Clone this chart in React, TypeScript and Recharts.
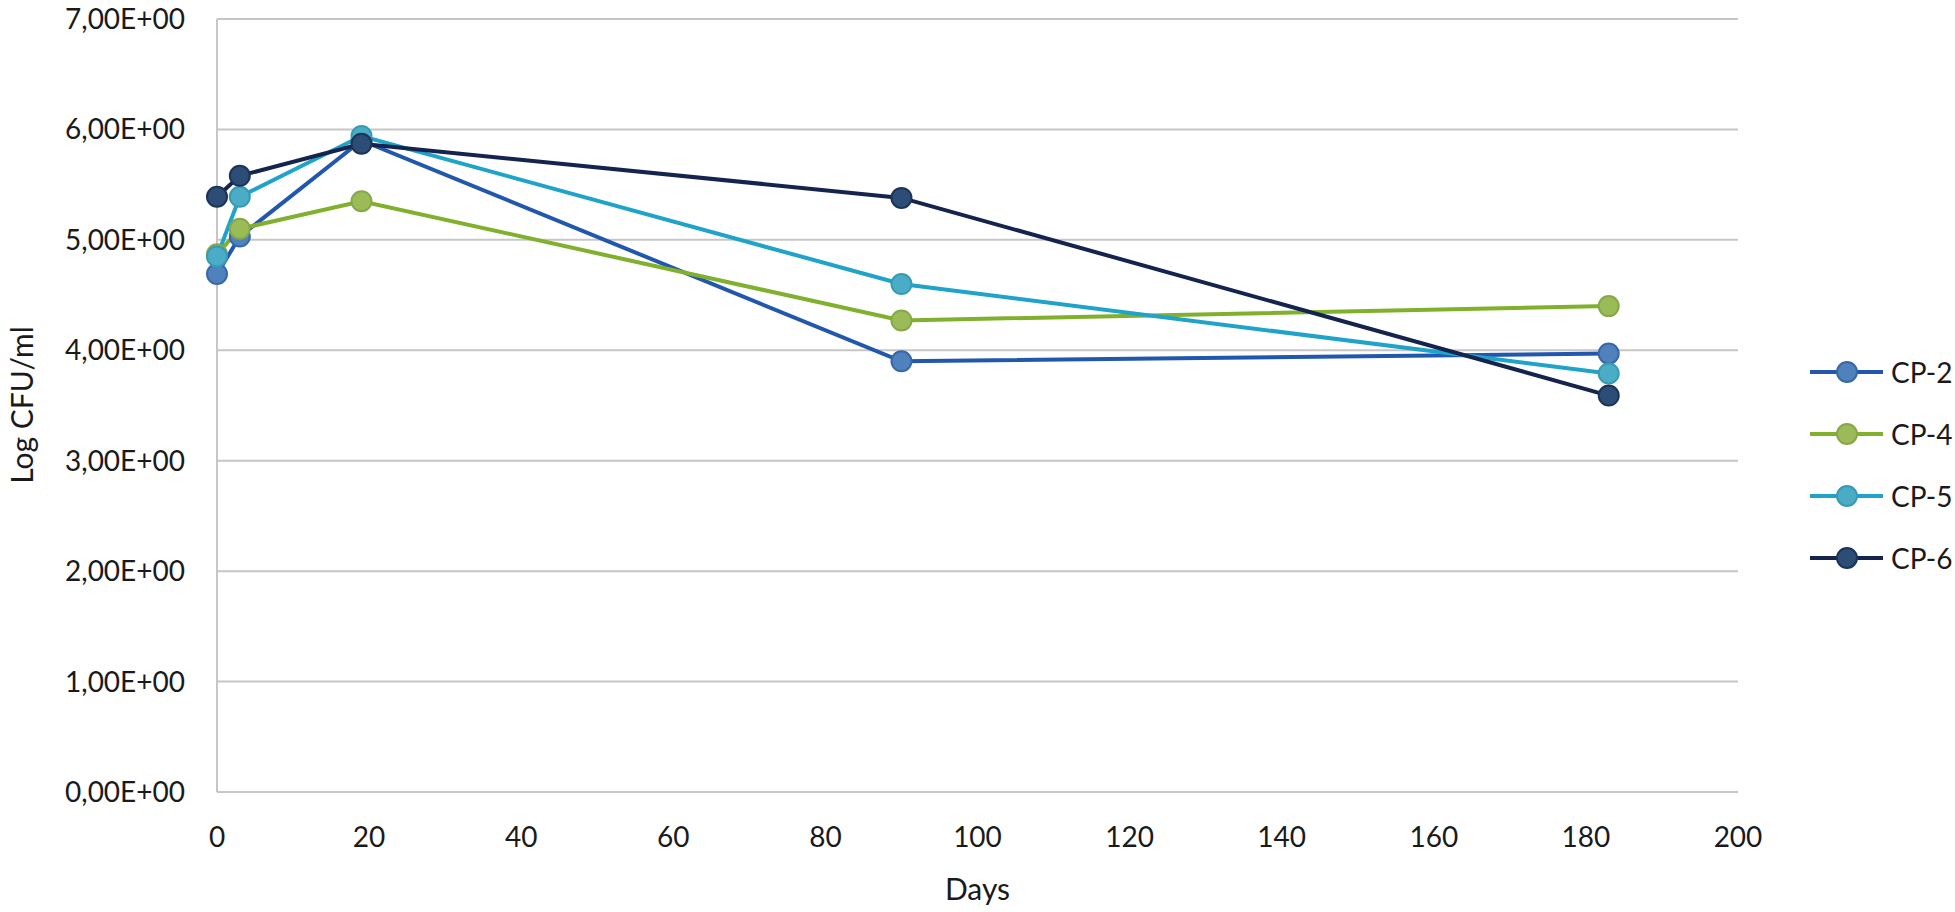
import {
  LineChart,
  Line,
  XAxis,
  YAxis,
  CartesianGrid,
  Legend,
  Label,
} from "recharts";

const days = [0, 3, 19, 90, 183];
const cp2 = [4.69, 5.03, 5.9, 3.9, 3.97];
const cp4 = [4.87, 5.1, 5.35, 4.27, 4.4];
const cp5 = [4.85, 5.39, 5.94, 4.6, 3.79];
const cp6 = [5.39, 5.58, 5.87, 5.38, 3.59];

const xTicks = [0, 20, 40, 60, 80, 100, 120, 140, 160, 180, 200];
const yTicks = [0, 1, 2, 3, 4, 5, 6, 7];

const seriesInfo = [
  { key: "CP-2", line: "#2157ad", dot: "#4f81bd", edge: "#3a67a8" },
  { key: "CP-4", line: "#80b02c", dot: "#9bbb59", edge: "#86a848" },
  { key: "CP-5", line: "#1fa3c9", dot: "#4bacc6", edge: "#379bb6" },
  { key: "CP-6", line: "#15234f", dot: "#2c4d75", edge: "#1c3458" },
];

const data = days.map((d, i) => ({
  day: d,
  "CP-2": cp2[i],
  "CP-4": cp4[i],
  "CP-5": cp5[i],
  "CP-6": cp6[i],
}));

const FONT = "Lato, 'Open Sans', sans-serif";
const TEXT = "#1a1a1a";

const fmtY = (v: number) => v.toFixed(2).replace(".", ",") + "E+00";

function LegendBox() {
  return (
    <div style={{ fontFamily: FONT, fontSize: 28, color: TEXT }}>
      {seriesInfo.map((s) => (
        <div
          key={s.key}
          style={{ display: "flex", alignItems: "center", height: 62 }}
        >
          <svg width={73} height={26} style={{ marginRight: 8 }}>
            <line x1={0} y1={13} x2={73} y2={13} stroke={s.line} strokeWidth={4} />
            <circle cx={37} cy={13} r={10} fill={s.dot} stroke={s.edge} strokeWidth={2} />
          </svg>
          <span>{s.key}</span>
        </div>
      ))}
    </div>
  );
}

export default function App() {
  return (
    <div style={{ position: "absolute", left: 0, top: 0, background: "#fff" }}>
      <LineChart
        width={1955}
        height={912}
        data={data}
        margin={{ top: 19, right: 217, bottom: 0, left: 0 }}
      >
        <CartesianGrid vertical={false} stroke="#c6c6c6" strokeWidth={2} />
        <XAxis
          dataKey="day"
          type="number"
          domain={[0, 200]}
          ticks={xTicks}
          height={120}
          tickLine={false}
          axisLine={{ stroke: "#c6c6c6", strokeWidth: 2 }}
          tickMargin={29}
          tick={{ fill: TEXT, fontSize: 28, fontFamily: FONT }}
        >
          <Label
            value="Days"
            position="insideBottom"
            offset={12}
            style={{ fill: TEXT, fontSize: 30, fontFamily: FONT }}
          />
        </XAxis>
        <YAxis
          type="number"
          domain={[0, 7]}
          ticks={yTicks}
          width={217}
          tickLine={false}
          axisLine={{ stroke: "#c6c6c6", strokeWidth: 2 }}
          tickMargin={26}
          tickFormatter={fmtY}
          tick={{ fill: TEXT, fontSize: 28, fontFamily: FONT }}
        >
          <Label
            content={() => (
              <text
                x={21}
                y={405}
                transform="rotate(-90 21 405)"
                textAnchor="middle"
                dominantBaseline="central"
                fill={TEXT}
                fontSize={30}
                fontFamily={FONT}
              >
                Log CFU/ml
              </text>
            )}
          />
        </YAxis>
        <Legend
          layout="vertical"
          align="center"
          verticalAlign="middle"
          wrapperStyle={{ left: 1810, top: 341, width: 145 }}
          content={() => <LegendBox />}
        />
        {seriesInfo.map((s) => (
          <Line
            key={s.key}
            type="linear"
            dataKey={s.key}
            stroke={s.line}
            strokeWidth={4}
            dot={{ r: 10, fill: s.dot, stroke: s.edge, strokeWidth: 2 }}
            activeDot={false}
            isAnimationActive={false}
          />
        ))}
      </LineChart>
    </div>
  );
}
